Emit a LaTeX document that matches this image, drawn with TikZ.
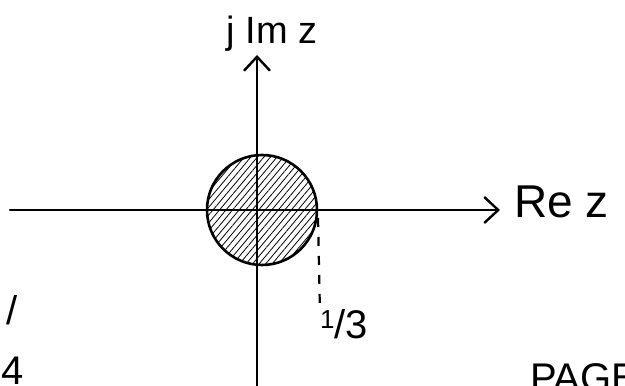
\documentclass[tikz,border=0pt]{standalone}
\usepackage{fontspec}
\setmainfont{Liberation Sans}
\usetikzlibrary{arrows.meta,patterns.meta}
\begin{document}
\begin{tikzpicture}[x=1pt,y=1pt,
  axis/.style={line width=2.4pt,line cap=round,-{Straight Barb[length=14pt,width=26pt,line width=2.4pt]}},
  lbl/.style={inner sep=0pt,font=\fontsize{40}{44}\selectfont},
  disk/.style={line width=2.6pt,pattern={Lines[angle=50,distance=5pt,line width=0.8pt]}}]
\useasboundingbox (0,0) rectangle (625,386);
\clip (0,0) rectangle (625,386);
% axis ends
\coordinate (xl) at (10,176);
\coordinate (xr) at (500,176);
\coordinate (yb) at (257,-5);
\coordinate (yt) at (257,331);
\coordinate (o) at (262,176);
% disk
\draw[disk] (o) circle (55);
\coordinate (rim) at (318,168);
% axes
\draw[axis] (xl) -- (xr);
\draw[axis] (yb) -- (yt);
% labels
\node[lbl,anchor=west,font=\fontsize{46}{50}\selectfont] (re) at (514,184) {Re z};
\node[lbl,font=\fontsize{38}{42}\selectfont] (im) at (272,352) {j Im z};
\node[lbl,font=\fontsize{40}{44}\selectfont] (third) at (344,62) {\raisebox{10pt}{\fontsize{26}{28}\selectfont 1}/3};
\draw[line width=2.2pt,dash pattern=on 9pt off 10pt] (rim) -- (third.north west);
% fragments at the page edges
\node[lbl] (f1) at (12,76) {/};
\node[lbl,anchor=south west] (f2) at (1,1) {4};
\node[lbl,anchor=base west,font=\fontsize{40}{44}\selectfont] (pg) at (530,-6) {PAGE};
\end{tikzpicture}
\end{document}
